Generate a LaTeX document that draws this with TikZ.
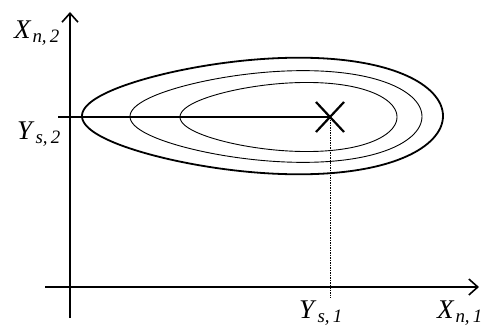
\documentclass[tikz,border=0pt]{standalone}
\usepackage{fontspec}
\setmainfont{Liberation Serif}
\usetikzlibrary{arrows.meta}
\newcommand\axlab[2]{\textit{#1}\textsubscript{\kern0.05em\textit{#2}}}
\begin{document}
\begin{tikzpicture}[x=1pt,y=-1pt,
  axis/.style={line width=1.8pt,-{Straight Barb[length=9pt,width=16pt,line width=1.6pt]}},
  outer/.style={line width=1.8pt},
  inner/.style={line width=0.9pt},
  guide/.style={line width=1.1pt},
  dotline/.style={line width=0.8pt,dash pattern=on 1.5pt off 1pt},
  lab/.style={font=\fontsize{27}{29}\selectfont,inner sep=0pt}]
\useasboundingbox (0,0) rectangle (481,334);
% axes
\coordinate (yb) at (70,318);
\coordinate (yt) at (70,12);
\coordinate (xl) at (45,287);
\coordinate (xr) at (479,287);
\draw[axis] (yb) -- (yt);
\draw[axis] (xl) -- (xr);
% contours
\draw[outer] plot[domain=0:360,samples=150,smooth cycle] ({262.5+180.5*cos(\x)},{116+57*sin(\x)*(1+0.22*cos(\x))});
\draw[inner] plot[domain=0:360,samples=150,smooth cycle] ({276+146*cos(\x)},{116.5+45*sin(\x)*(1+0.2*cos(\x))});
\draw[inner] plot[domain=0:360,samples=150,smooth cycle] ({288.5+108.5*cos(\x)},{117+34*sin(\x)*(1+0.18*cos(\x))});
% guides
\coordinate (c) at (330,117);
\coordinate (hl) at (58,117);
\coordinate (vb) at (330,298);
\draw[guide] (hl) -- (c);
\draw[dotline] (c) -- (vb);
% cross
\draw[line width=2.2pt] ([shift={(-14,-15)}]c) -- ([shift={(14,15)}]c);
\draw[line width=2.2pt] ([shift={(14,-15)}]c) -- ([shift={(-14,15)}]c);
% labels
\node[lab] (xn2) at (37,33) {\axlab{X}{n,\,2}};
\node[lab] (ys2) at (39,134) {\axlab{Y}{s,\,2}};
\node[lab] (ys1) at (321,313) {\axlab{Y}{s,\,1}};
\node[lab,anchor=west] (xn1) at (437,313) {\axlab{X}{n,\,1}};
\end{tikzpicture}
\end{document}
